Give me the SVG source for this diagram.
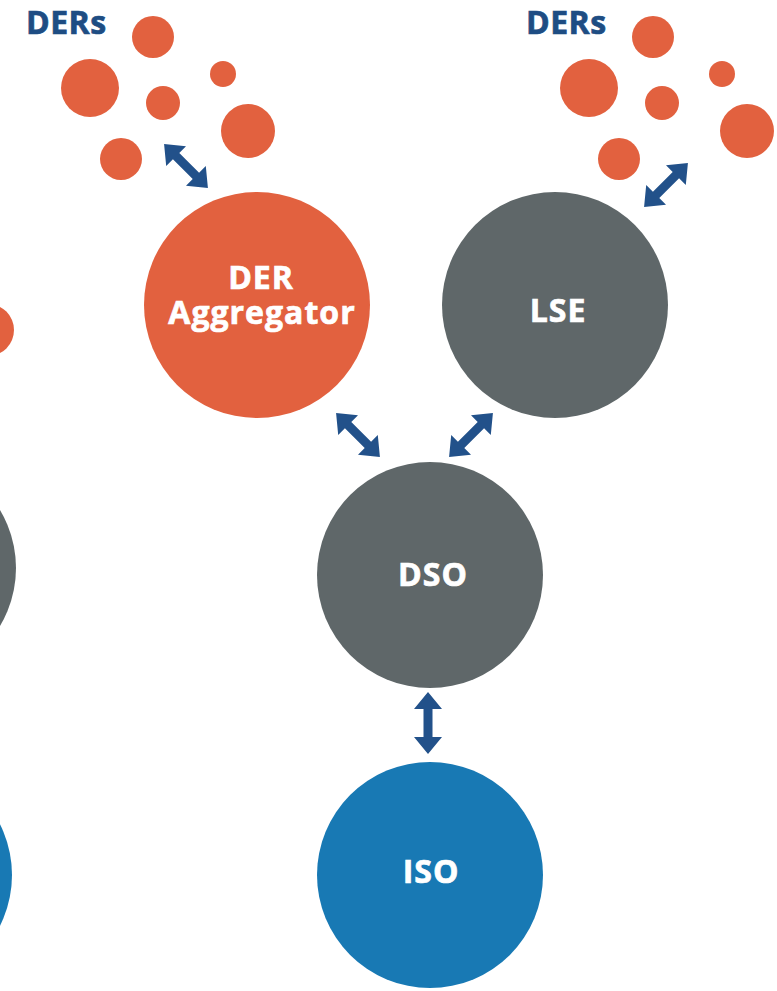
<svg xmlns="http://www.w3.org/2000/svg" xmlns:xlink="http://www.w3.org/1999/xlink" width="777" height="991" viewBox="0 0 777 991">
  <style>
    .der { fill: #e2613f; }
    .gray { fill: #5f6769; }
    .blue { fill: #1879b4; }
    .lbl { font-family: "Open Sans", "Liberation Sans", sans-serif; font-weight: 700; fill: #ffffff; stroke: #ffffff; stroke-width: 0.7; text-anchor: middle; font-size: 32px; letter-spacing: 1px; }
    .ders { font-family: "Open Sans", "Liberation Sans", sans-serif; font-weight: 700; fill: #1e4d83; stroke: #1e4d83; stroke-width: 0.7; font-size: 32px; letter-spacing: 0.5px; }
    .arrow { fill: #22518a; }
  </style>
  <defs>
    <!-- double-headed arrow along +x, centred on the origin -->
    <path id="dbl" d="M-31,0 L-14,-14 L-14,-4.5 L14,-4.5 L14,-14 L31,0 L14,14 L14,4.5 L-14,4.5 L-14,14 Z"/>
  </defs>
  <rect width="777" height="991" fill="#ffffff"/>

  <!-- partial shapes clipped by the left edge -->
  <g id="edge-shapes">
    <circle class="der" cx="-12" cy="330" r="26"/>
    <circle class="gray" cx="-97" cy="568" r="113"/>
    <circle class="blue" cx="-101" cy="875" r="113"/>
  </g>

  <!-- left cluster of distributed energy resources -->
  <g id="ders-left">
    <text class="ders" x="26" y="34">DERs</text>
    <circle class="der" cx="153" cy="37" r="21"/>
    <circle class="der" cx="90" cy="88" r="29"/>
    <circle class="der" cx="223" cy="74" r="13"/>
    <circle class="der" cx="163" cy="103" r="17"/>
    <circle class="der" cx="248" cy="131" r="27"/>
    <circle class="der" cx="121" cy="159" r="21"/>
  </g>

  <!-- right cluster of distributed energy resources -->
  <g id="ders-right">
    <text class="ders" x="526" y="34">DERs</text>
    <circle class="der" cx="653" cy="37" r="21"/>
    <circle class="der" cx="589" cy="88" r="29"/>
    <circle class="der" cx="722" cy="74" r="13"/>
    <circle class="der" cx="662" cy="103" r="17"/>
    <circle class="der" cx="747" cy="131" r="27"/>
    <circle class="der" cx="619" cy="159" r="21"/>
  </g>

  <g id="der-aggregator">
    <circle class="der" cx="257" cy="305" r="113"/>
    <text class="lbl" x="261" y="289">DER</text>
    <text class="lbl" x="262" y="324">Aggregator</text>
  </g>

  <g id="lse">
    <circle class="gray" cx="555" cy="305" r="113"/>
    <text class="lbl" x="558" y="322">LSE</text>
  </g>

  <g id="dso">
    <circle class="gray" cx="430" cy="575" r="113"/>
    <text class="lbl" x="433" y="586">DSO</text>
  </g>

  <g id="iso">
    <circle class="blue" cx="430" cy="875" r="113"/>
    <text class="lbl" x="431" y="883">ISO</text>
  </g>

  <!-- connectors -->
  <g id="connectors" class="arrow">
    <use xlink:href="#dbl" transform="translate(186,166) rotate(45)"/>
    <use xlink:href="#dbl" transform="translate(666,185) rotate(-45)"/>
    <use xlink:href="#dbl" transform="translate(358,435) rotate(45)"/>
    <use xlink:href="#dbl" transform="translate(471,435) rotate(-45)"/>
    <use xlink:href="#dbl" transform="translate(428,723) rotate(90)"/>
  </g>
</svg>
